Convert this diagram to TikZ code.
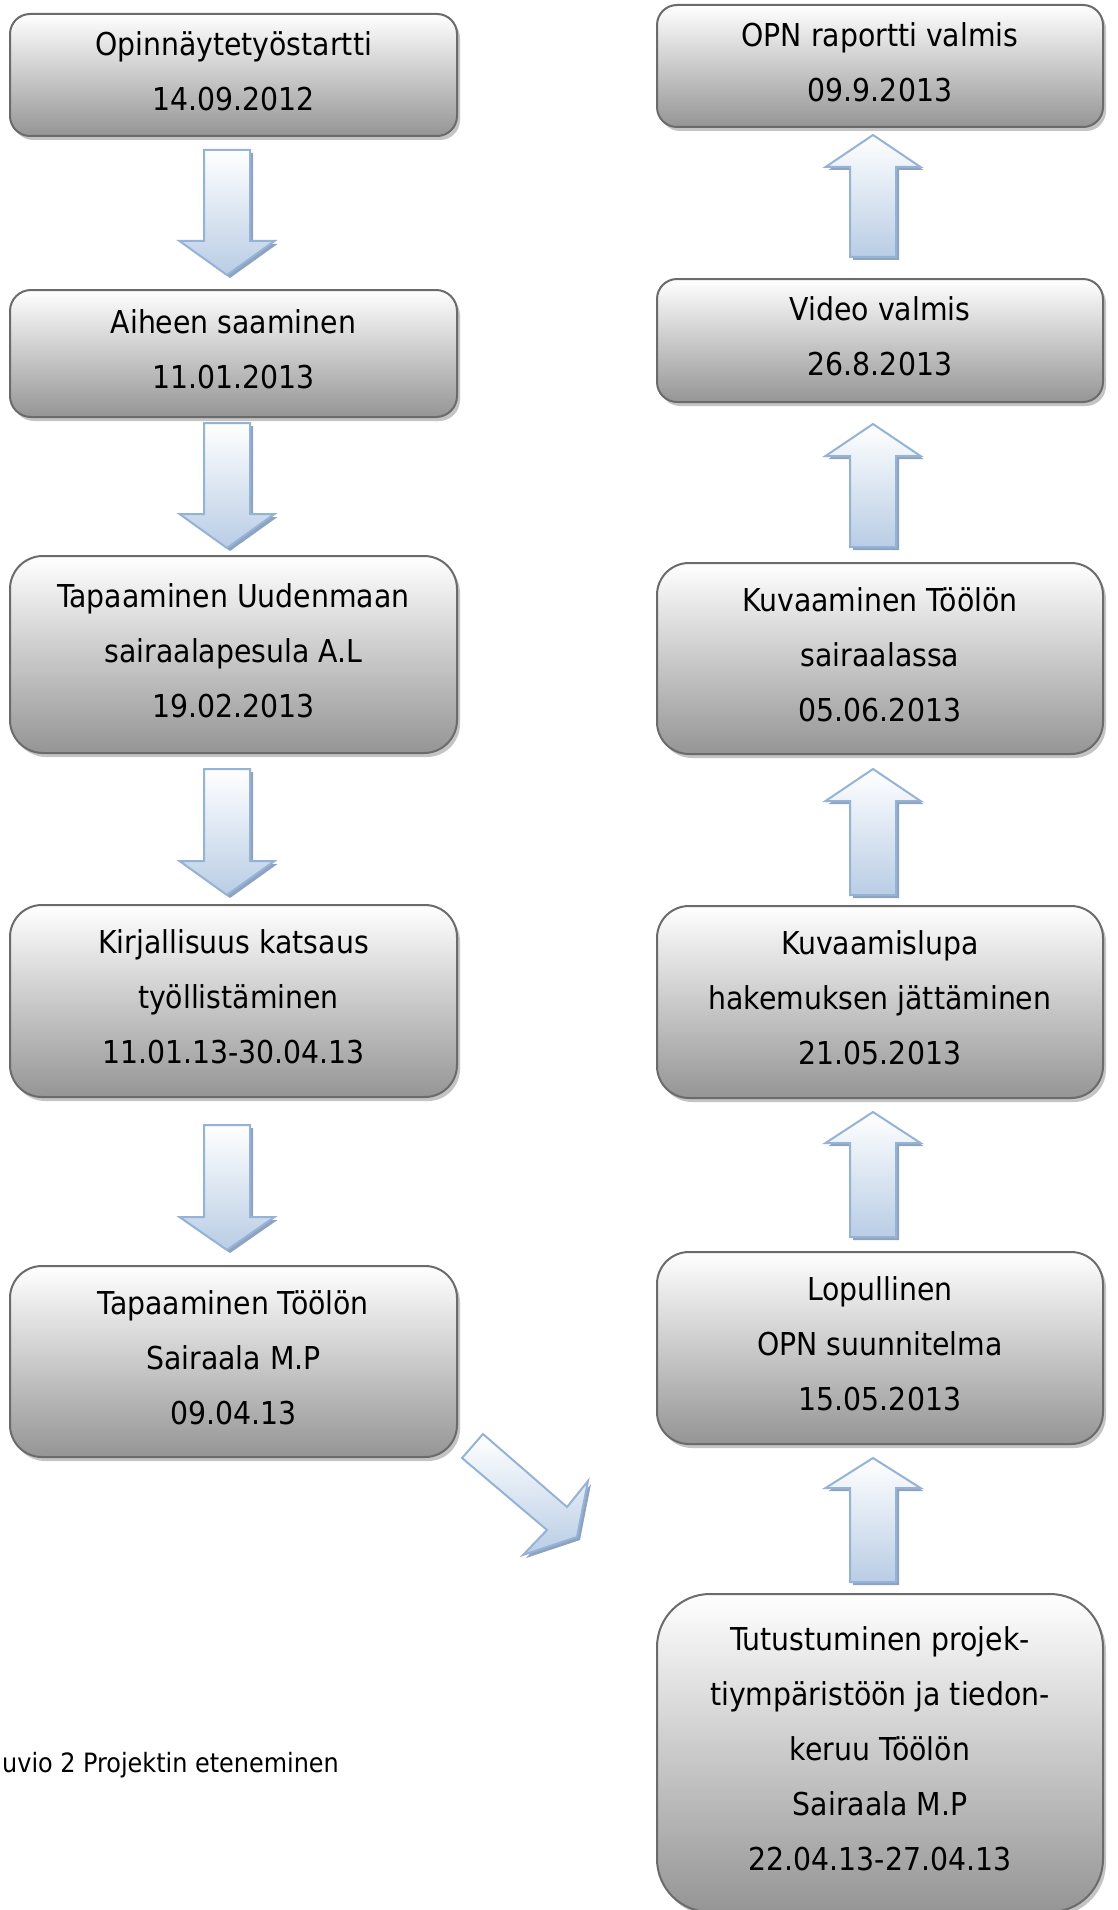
\documentclass[tikz,border=0pt]{standalone}
\usepackage{fontspec}
\setmainfont{DejaVu Sans Condensed}
\usetikzlibrary{shadows}
\definecolor{boxedge}{HTML}{6B6B6B}
\definecolor{boxbot}{HTML}{959595}
\definecolor{boxshadow}{HTML}{C4C4C4}
\definecolor{arredge}{HTML}{95B3D7}
\definecolor{arrbot}{HTML}{B9CDE5}
\definecolor{arrshadow}{HTML}{8FA3C0}
\newcommand\ls{\rule[-8pt]{0pt}{30pt}}
% block arrow: x centre, y of flat end, y of head base, y of tip
\newcommand\blkarrow[4]{%
  \fill[arrshadow,xshift=3pt,yshift=-3pt] (#1-23,#2) -- (#1+23,#2) -- (#1+23,#3) -- (#1+47.5,#3) -- (#1,#4) -- (#1-47.5,#3) -- (#1-23,#3) -- cycle;
  \path[arrowbody] (#1-23,#2) -- (#1+23,#2) -- (#1+23,#3) -- (#1+47.5,#3) -- (#1,#4) -- (#1-47.5,#3) -- (#1-23,#3) -- cycle;
}
\tikzset{
  stage/.style={draw=boxedge, line width=2pt, top color=white, bottom color=boxbot,
    align=center, inner sep=0pt, font=\fontsize{31.5}{55}\selectfont,
    drop shadow={shadow xshift=3pt, shadow yshift=-4pt, fill=boxshadow, opacity=1}},
  lcol/.style={stage, minimum width=447pt},
  rcol/.style={stage, minimum width=446pt},
  arrowbody/.style={draw=arredge, line width=2pt, line join=miter, top color=white, bottom color=arrbot},
  caption/.style={font=\fontsize{26.6}{30}\selectfont, anchor=base west, inner sep=0pt}
}
\begin{document}
\begin{tikzpicture}[x=1pt, y=-1pt]
\useasboundingbox (0,0) rectangle (1118,1910);
\fill[white] (0,0) rectangle (1118,1910);

% left column
\node[lcol, minimum height=122pt, rounded corners=20pt] (L1) at (233.5,75)
  {\ls Opinnäytetyöstartti\\\ls 14.09.2012};
\node[lcol, minimum height=127pt, rounded corners=21pt] (L2) at (233.5,353.5)
  {\ls Aiheen saaminen\\\ls 11.01.2013};
\node[lcol, minimum height=197pt, rounded corners=33pt] (L3) at (233.5,654.5)
  {\ls Tapaaminen Uudenmaan\\\ls sairaalapesula A.L\\\ls 19.02.2013};
\node[lcol, minimum height=192pt, rounded corners=32pt] (L4) at (233.5,1001)
  {\ls Kirjallisuus katsaus\\\ls \hspace{10pt}työllistäminen\\\ls 11.01.13-30.04.13};
\node[lcol, minimum height=191pt, rounded corners=32pt] (L5) at (233.5,1361.5)
  {\ls Tapaaminen Töölön\\\ls Sairaala M.P\\\ls 09.04.13};

% right column
\node[rcol, minimum height=122pt, rounded corners=20pt] (R1) at (880,66)
  {\ls OPN raportti valmis\\\ls 09.9.2013};
\node[rcol, minimum height=123pt, rounded corners=20pt] (R2) at (880,340.5)
  {\ls Video valmis\\\ls 26.8.2013};
\node[rcol, minimum height=191pt, rounded corners=32pt] (R3) at (880,658.5)
  {\ls Kuvaaminen Töölön\\\ls sairaalassa\\\ls 05.06.2013};
\node[rcol, minimum height=192pt, rounded corners=32pt] (R4) at (880,1002)
  {\ls Kuvaamislupa\\\ls hakemuksen jättäminen\\\ls 21.05.2013};
\node[rcol, minimum height=192pt, rounded corners=32pt] (R5) at (880,1348)
  {\ls Lopullinen\\\ls OPN suunnitelma\\\ls 15.05.2013};
\node[rcol, minimum height=318pt, rounded corners=53pt] (R6) at (880,1753)
  {\ls Tutustuminen projek-\\\ls tiympäristöön ja tiedon-\\\ls keruu Töölön\\\ls Sairaala M.P\\\ls 22.04.13-27.04.13};

% down arrows (left column)
\blkarrow{227}{150}{241}{275}
\blkarrow{227}{423}{514}{548}
\blkarrow{227}{769}{861}{895}
\blkarrow{227}{1125}{1217}{1250}

% up arrows (right column)
\blkarrow{873}{257}{167}{135}
\blkarrow{873}{547}{456}{424}
\blkarrow{873}{895}{801}{769}
\blkarrow{873}{1237}{1143}{1112}
\blkarrow{873}{1582}{1488}{1458}

% diagonal arrow from L5 towards R6
\fill[arrshadow,xshift=3pt,yshift=-3pt] (483,1434) -- (567,1507) -- (588,1481) -- (577,1537) -- (523,1555) -- (547,1530) -- (462,1458) -- cycle;
\path[arrowbody] (483,1434) -- (567,1507) -- (588,1481) -- (577,1537) -- (523,1555) -- (547,1530) -- (462,1458) -- cycle;

% caption
\node[caption] (cap) at (2,1772) {uvio 2 Projektin eteneminen};
\end{tikzpicture}
\end{document}
